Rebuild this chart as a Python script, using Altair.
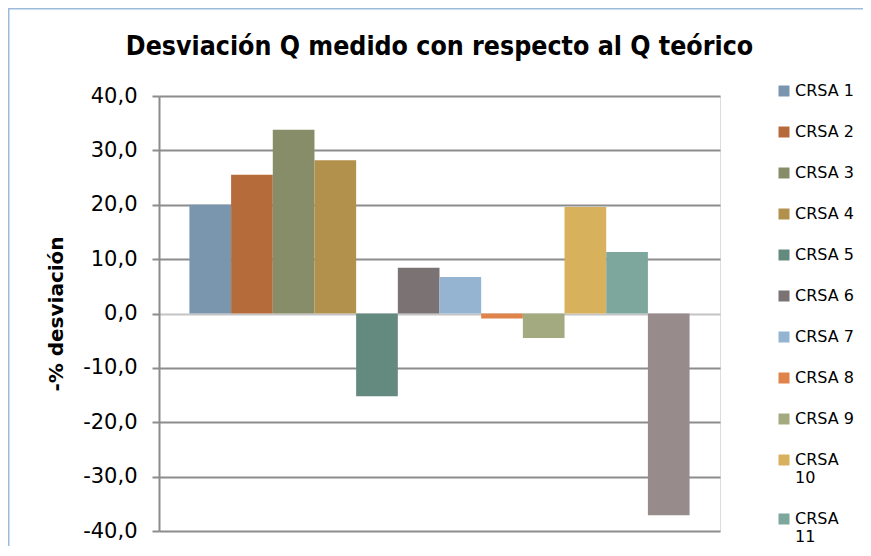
import altair as alt
import pandas as pd

names = [f"CRSA {i}" for i in range(1, 13)]
values = [20.0, 25.5, 33.8, 28.2, -15.2, 8.4, 6.7, -0.9, -4.5, 19.6, 11.3, -37.1]
colors = ["#7a96ae", "#b66b3a", "#878c69", "#b2914c", "#64897e", "#7b7274",
          "#95b4d2", "#e0834b", "#a4aa7f", "#d8b15d", "#7da79c", "#978c8b"]
legend_names = names[:11]
ticks = [-40, -30, -20, -10, 0, 10, 20, 30, 40]

df = pd.DataFrame({"serie": names, "valor": values})

bars = alt.Chart(df).mark_bar(strokeWidth=0).encode(
    x=alt.X("serie:N", sort=names, axis=None,
            scale=alt.Scale(paddingInner=0, paddingOuter=0.73)),
    y=alt.Y("valor:Q",
            scale=alt.Scale(domain=[-40, 40], nice=False, zero=True),
            axis=alt.Axis(
                values=ticks,
                title="-% desviación",
                labelExpr="replace(replace(format(datum.value, '.1f'), '.', ','), '\u2212', '-')",
                labelFont="DejaVu Sans", labelFontSize=21, labelColor="#000000",
                labelPadding=15,
                tickSize=7, tickColor="#8c8c8c", tickWidth=2,
                domainColor="#8c8c8c", domainWidth=2,
                grid=True,
                gridColor={"condition": {"test": "datum.value === 0", "value": "#c4c4c4"},
                           "value": "#8c8c8c"},
                gridWidth=2,
                titleFont="DejaVu Sans", titleFontSize=20, titleFontWeight="bold",
                titleColor="#000000", titleAngle=-90, titleAlign="center",
                titleBaseline="middle", titleX=-103, titleY=217.5,
            )),
    color=alt.Color("serie:N", sort=names,
                    scale=alt.Scale(domain=names, range=colors),
                    legend=alt.Legend(
                        values=legend_names, title=None, orient="none",
                        legendX=617, legendY=-13, padding=0,
                        symbolType="square", symbolSize=121, symbolStrokeWidth=0,
                        labelFont="DejaVu Sans", labelFontSize=16, labelColor="#000000",
                        labelOffset=3, rowPadding=25, labelLimit=200,
                        labelExpr="length(datum.label) > 6 ? split(datum.label, ' ') : datum.label",
                    )),
)

frame = alt.Chart(pd.DataFrame({"k": [0]})).mark_rect(
    fillOpacity=0, stroke="#9bbbd9", strokeWidth=1.5
).encode(
    x=alt.value(-150.25), x2=alt.value(760),
    y=alt.value(-87.25), y2=alt.value(500),
)

chart = alt.layer(frame, bars).properties(
    width=561, height=435,
    title=alt.TitleParams(
        "Desviación Q medido con respecto al Q teórico",
        font="DejaVu Sans Condensed, DejaVu Sans", fontSize=26.5, fontWeight="bold",
        color="#000000", anchor="middle", frame="group", baseline="alphabetic",
        offset=-73,
    ),
    autosize=alt.AutoSizeParams(type="none"),
    padding={"left": 151, "top": 88, "right": 143, "bottom": 15},
).configure_view(stroke=None).configure(background="#ffffff")

chart.save("out.html", embed_options={"renderer": "svg", "actions": False})
